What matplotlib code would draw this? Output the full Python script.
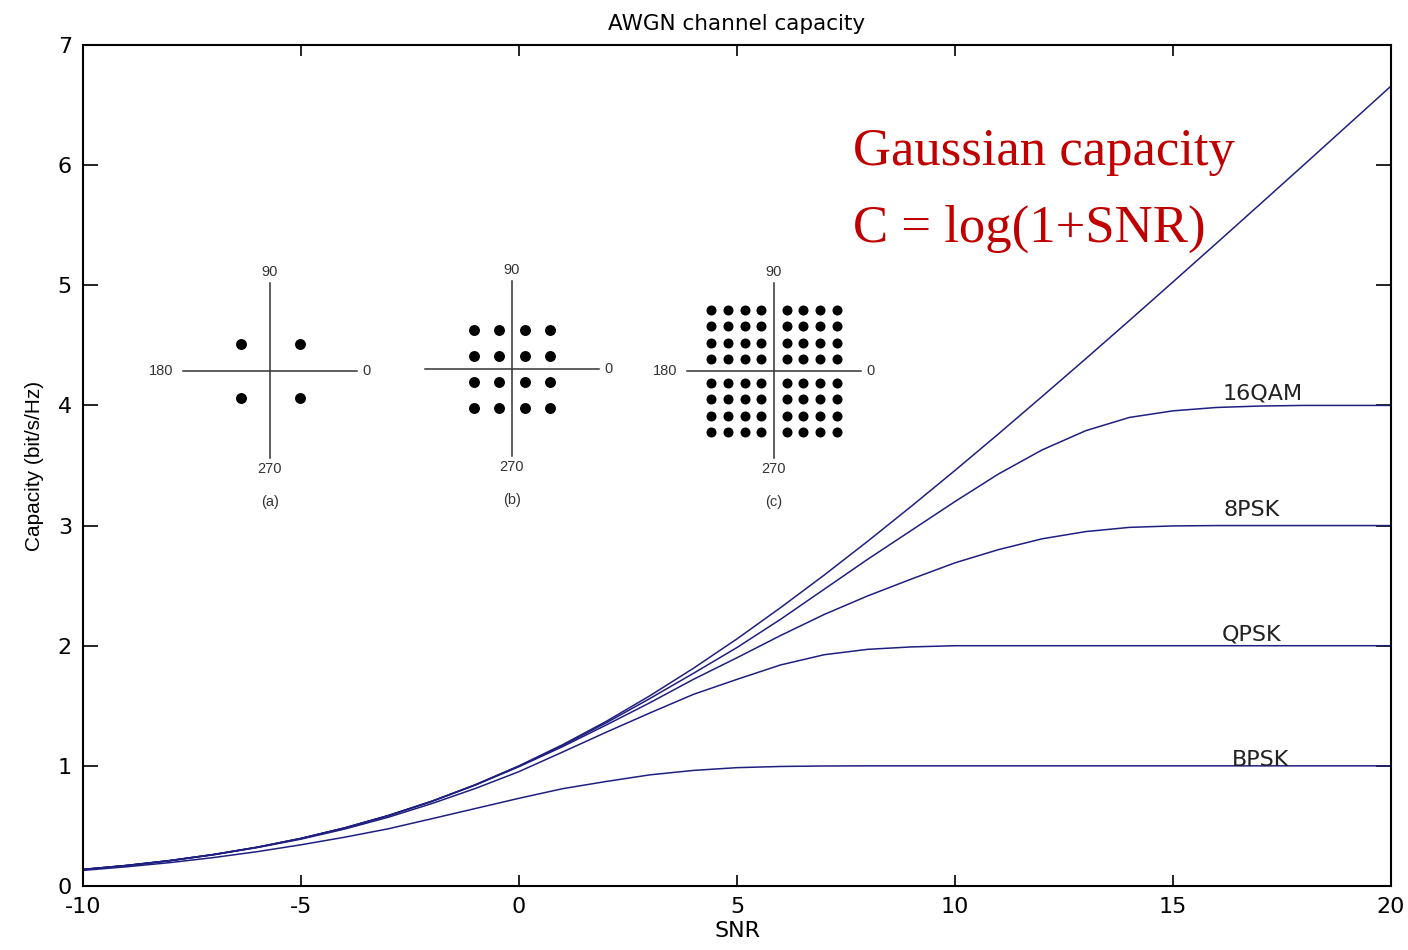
import matplotlib
matplotlib.use("Agg")
import matplotlib.pyplot as plt

# SNR grid (dB) and capacity curves (bit/s/Hz)
snr_db = [-10, -9, -8, -7, -6, -5, -4, -3, -2, -1, 0, 1, 2, 3, 4, 5,
          6, 7, 8, 9, 10, 11, 12, 13, 14, 15, 16, 17, 18, 19, 20]

gaussian = [0.138, 0.171, 0.212, 0.263, 0.323, 0.396, 0.484, 0.586, 0.706, 0.843,
            1.000, 1.176, 1.370, 1.583, 1.812, 2.057, 2.317, 2.588, 2.870, 3.161,
            3.459, 3.764, 4.075, 4.389, 4.707, 5.028, 5.351, 5.676, 6.002, 6.330, 6.658]

qam16 = [0.138, 0.171, 0.212, 0.262, 0.323, 0.396, 0.483, 0.586, 0.705, 0.842,
         0.998, 1.170, 1.358, 1.560, 1.770, 1.985, 2.220, 2.470, 2.720, 2.960,
         3.200, 3.430, 3.630, 3.790, 3.900, 3.955, 3.983, 3.995, 4.000, 4.000, 4.000]

psk8 = [0.138, 0.171, 0.212, 0.262, 0.323, 0.396, 0.483, 0.585, 0.704, 0.840,
        0.993, 1.160, 1.340, 1.525, 1.720, 1.900, 2.085, 2.260, 2.415, 2.555,
        2.690, 2.800, 2.890, 2.950, 2.985, 2.997, 3.000, 3.000, 3.000, 3.000, 3.000]

qpsk = [0.136, 0.170, 0.210, 0.260, 0.320, 0.390, 0.474, 0.572, 0.686, 0.812,
        0.952, 1.115, 1.280, 1.440, 1.595, 1.720, 1.840, 1.925, 1.970, 1.990,
        2.000, 2.000, 2.000, 2.000, 2.000, 2.000, 2.000, 2.000, 2.000, 2.000, 2.000]

bpsk = [0.130, 0.160, 0.195, 0.237, 0.286, 0.343, 0.406, 0.476, 0.560, 0.645,
        0.730, 0.810, 0.870, 0.925, 0.962, 0.985, 0.995, 0.999, 1.000, 1.000,
        1.000, 1.000, 1.000, 1.000, 1.000, 1.000, 1.000, 1.000, 1.000, 1.000, 1.000]

curve_names = ["16QAM", "8PSK", "QPSK", "BPSK"]
curve_label_x = [17.05, 16.8, 16.8, 17.0]
curve_label_y = [4.10, 3.13, 2.09, 1.05]

# constellation levels (a) QPSK, (b) 16QAM, (c) 64QAM
levels_a = [-1, 1]
levels_b = [-3, -1, 1, 3]
levels_c = [-7, -5, -3, -1, 1, 3, 5, 7]

LINE = "#1f1f80"
W, H = 1408, 950
plt.rcParams["axes.unicode_minus"] = False
plt.rcParams["font.family"] = ["DejaVu Sans"]


def fig_box(x0, y0, x1, y1):
    # pixel box (y from top) -> figure fraction
    return [x0 / W, 1 - y1 / H, (x1 - x0) / W, (y1 - y0) / H]


def constellation(fig, cx, cy, levels, sx, sy, gap, tag, size, left_label=True):
    a = fig.add_axes(fig_box(cx - 130, cy - 150, cx + 130, cy + 150))
    a.set_xlim(-130, 130)
    a.set_ylim(-150, 150)
    a.axis("off")
    a.plot([-87, 87], [0, 0], color="#333333", lw=1.1)
    a.plot([0, 0], [-87, 88], color="#333333", lw=1.1)
    xs, ys = [], []
    for i in levels:
        for q in levels:
            si = 1 if i > 0 else -1
            sq = 1 if q > 0 else -1
            xs.append((i + gap * si) * sx)
            ys.append((q + gap * sq) * sy)
    a.scatter(xs, ys, s=size, color="black", linewidths=0, zorder=3)
    fs = 10.5
    fam = ["Liberation Sans", "DejaVu Sans"]
    a.text(0, 99, "90", ha="center", va="center", fontsize=fs, family=fam, color="#333333")
    a.text(0, -98, "270", ha="center", va="center", fontsize=fs, family=fam, color="#333333")
    if left_label:
        a.text(-97, 0, "180", ha="right", va="center", fontsize=fs, family=fam, color="#333333")
    a.text(92, 0, "0", ha="left", va="center", fontsize=fs, family=fam, color="#333333")
    a.text(0, -131, tag, ha="center", va="center", fontsize=fs, family=fam, color="#333333")


fig = plt.figure(figsize=(W / 100, H / 100), dpi=100)
ax = fig.add_axes(fig_box(83, 45, 1391, 886))

for vals in [gaussian, qam16, psk8, qpsk, bpsk]:
    ax.plot(snr_db, vals, color=LINE, lw=1.1)

for name, tx, ty in zip(curve_names, curve_label_x, curve_label_y):
    ax.text(tx, ty, name, ha="center", va="center", fontsize=16, color="#222222")

ax.set_xlim(-10, 20)
ax.set_ylim(0, 7)
ax.set_xticks([-10, -5, 0, 5, 10, 15, 20])
ax.set_yticks([0, 1, 2, 3, 4, 5, 6, 7])
ax.tick_params(axis="both", direction="in", top=True, right=True,
               labelsize=16, width=1.2)
ax.tick_params(axis="x", length=8, pad=8)
ax.tick_params(axis="y", length=10.5, pad=8)
for sp in ax.spines.values():
    sp.set_linewidth(1.5)

ax.set_title("AWGN channel capacity", fontsize=15.5, pad=11)
ax.set_xlabel("SNR", fontsize=16, labelpad=3)
ax.set_ylabel("Capacity (bit/s/Hz)", fontsize=15, labelpad=10,
              family=["Liberation Sans", "DejaVu Sans"])

red = "#c00000"
ax.text(0.589, 0.857, "Gaussian capacity", transform=ax.transAxes, va="baseline",
        ha="left", fontsize=38, color=red, family=["Liberation Serif", "DejaVu Serif"])
ax.text(0.589, 0.766, "C = log(1+SNR)", transform=ax.transAxes, va="baseline",
        ha="left", fontsize=38, color=red, family=["Liberation Serif", "DejaVu Serif"])

constellation(fig, 270, 371, levels_a, 29.5, 27, 0, "(a)", 62)
constellation(fig, 512, 369, levels_b, 12.8, 13, 0, "(b)", 62, left_label=False)
constellation(fig, 774, 371, levels_c, 8.4, 8.1, 0.5, "(c)", 52)

fig.savefig("out.png", dpi=100)
